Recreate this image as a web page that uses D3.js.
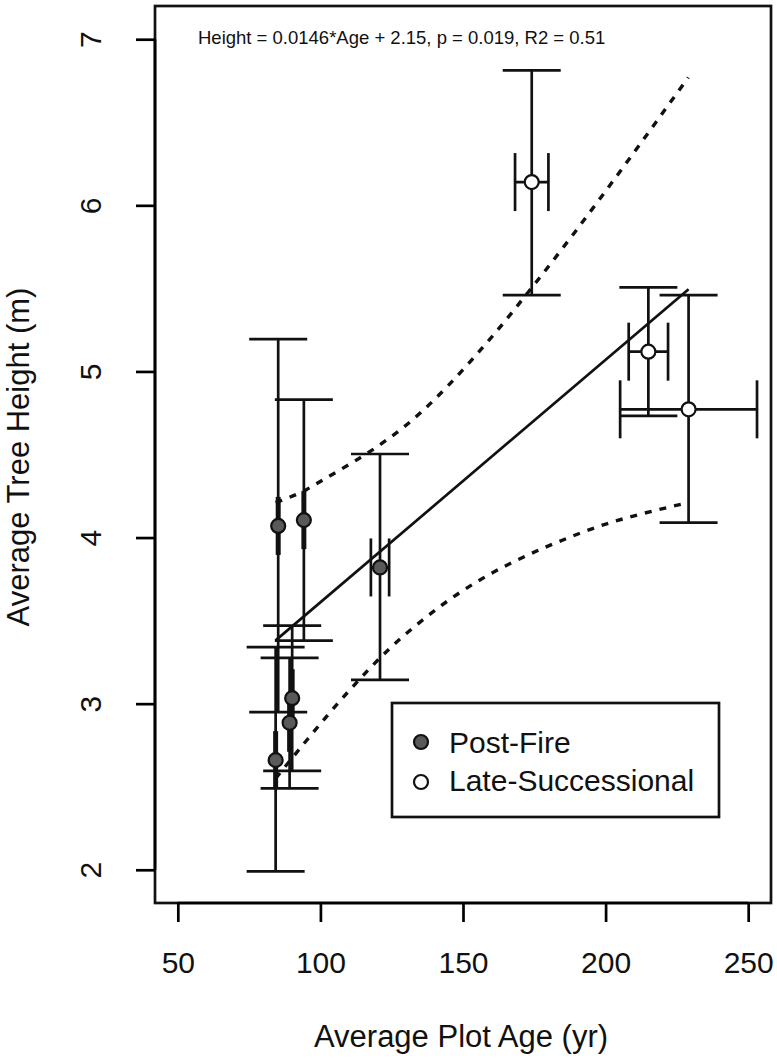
<!DOCTYPE html>
<html>
<head>
<meta charset="utf-8">
<script src="https://cdnjs.cloudflare.com/ajax/libs/d3/7.8.5/d3.min.js"></script>
<style>
    body { margin: 0; background: #fff; }
    svg text { font-family: "Liberation Sans", Arial, sans-serif; fill: #111; }
</style>
</head>
<body>
<div class="chart-svg"></div>
<script>
// post-fire plots
var pfAge = [85.2, 94.2, 120.9, 84.3, 89.2, 90.1];
var pfAgeErr = [0.4, 0.4, 3.2, 0.4, 0.4, 0.4];
var pfHeight = [4.07, 4.105, 3.82, 2.66, 2.885, 3.033];
var pfLow = [2.949, 3.38, 3.143, 1.99, 2.49, 2.596];
var pfHigh = [5.195, 4.83, 4.503, 3.34, 3.276, 3.47];

// late-successional plots
var lsAge = [174.1, 215, 229.1];
var lsAgeErr = [5.85, 6.9, 24];
var lsHeight = [6.14, 5.119, 4.772];
var lsLow = [5.46, 4.732, 4.09];
var lsHigh = [6.813, 5.506, 5.46];

// fitted line and confidence band
var fitAge = [84.3, 229.1];
var fitHeight = [3.381, 5.495];
var ciUpperAge = [84.3, 95.2, 99.8, 123.2, 127.9, 161.2, 175.3, 229];
var ciUpperHeight = [4.21, 4.29, 4.336, 4.587, 4.647, 5.23, 5.53, 6.77];
var ciLowerAge = [84.3, 87.5, 95.2, 109.8, 124.4, 141.9, 191, 229];
var ciLowerHeight = [2.55, 2.618, 2.78, 3.073, 3.334, 3.584, 4.026, 4.21];

var xTicks = [50, 100, 150, 200, 250];
var yTicks = [2, 3, 4, 5, 6, 7];
var equationText = "Height = 0.0146*Age + 2.15, p = 0.019, R2 = 0.51";
var legendLabels = ["Post-Fire", "Late-Successional"];

window.onload = function(){
    var svgWidth = 777;
    var svgHeight = 1059;
    var capHalf = 29;

    var svg = d3.select(".chart-svg")
            .append("svg")
            .attr("width", svgWidth)
            .attr("height", svgHeight);

    var xScale = d3.scaleLinear()
        .domain([42, 258])
        .range([155, 771]);

    var yScale = d3.scaleLinear()
        .domain([1.8, 7.2])
        .range([903, 6]);

    var plot = svg.append("g").attr("class", "plot");

    function makePoints(ages, errs, heights, lows, highs){
        return ages.map(function(a, i){
            return {age: a, err: errs[i], h: heights[i], lo: lows[i], hi: highs[i]};
        });
    };
    var postFire = makePoints(pfAge, pfAgeErr, pfHeight, pfLow, pfHigh);
    var lateSucc = makePoints(lsAge, lsAgeErr, lsHeight, lsLow, lsHigh);

    // confidence band
    var line = d3.line()
        .x(function(d){ return xScale(d[0]); })
        .y(function(d){ return yScale(d[1]); })
        .curve(d3.curveMonotoneX);

    [[ciUpperAge, ciUpperHeight], [ciLowerAge, ciLowerHeight]].forEach(function(c){
        plot.append("path")
            .datum(d3.zip(c[0], c[1]))
            .attr("d", line)
            .attr("fill", "none")
            .attr("stroke", "#111")
            .attr("stroke-width", 3.4)
            .attr("stroke-dasharray", "7,8");
    });

    plot.append("path")
        .datum(d3.zip(fitAge, fitHeight))
        .attr("d", d3.line().x(function(d){ return xScale(d[0]); }).y(function(d){ return yScale(d[1]); }))
        .attr("fill", "none")
        .attr("stroke", "#111")
        .attr("stroke-width", 2.7);

    function errorBars(data){
        var g = plot.append("g")
            .attr("stroke", "#111")
            .attr("stroke-width", 2.7);
        data.forEach(function(d){
            var cx = xScale(d.age), cy = yScale(d.h);
            // vertical bar
            g.append("line").attr("x1", cx).attr("x2", cx).attr("y1", yScale(d.lo)).attr("y2", yScale(d.hi));
            g.append("line").attr("x1", cx - capHalf).attr("x2", cx + capHalf).attr("y1", yScale(d.lo)).attr("y2", yScale(d.lo));
            g.append("line").attr("x1", cx - capHalf).attr("x2", cx + capHalf).attr("y1", yScale(d.hi)).attr("y2", yScale(d.hi));
            // horizontal bar
            var x0 = xScale(d.age - d.err), x1 = xScale(d.age + d.err);
            g.append("line").attr("x1", x0).attr("x2", x1).attr("y1", cy).attr("y2", cy);
            g.append("line").attr("x1", x0).attr("x2", x0).attr("y1", cy - capHalf).attr("y2", cy + capHalf);
            g.append("line").attr("x1", x1).attr("x2", x1).attr("y1", cy - capHalf).attr("y2", cy + capHalf);
        });
    };
    errorBars(postFire);
    errorBars(lateSucc);

    function drawPoints(data, fill){
        plot.append("g").selectAll("circle")
            .data(data)
            .enter()
            .append("circle")
            .attr("cx", function(d){ return xScale(d.age); })
            .attr("cy", function(d){ return yScale(d.h); })
            .attr("r", 7)
            .attr("fill", fill)
            .attr("stroke", "#111")
            .attr("stroke-width", 2.2);
    };
    drawPoints(postFire, "#595959");
    drawPoints(lateSucc, "#fff");

    // box
    svg.append("rect")
        .attr("x", 155).attr("y", 6)
        .attr("width", 616).attr("height", 897)
        .attr("fill", "none")
        .attr("stroke", "#111")
        .attr("stroke-width", 2.7);

    // axes
    var xAxis = d3.axisBottom(xScale).tickValues(xTicks).tickSize(19).tickPadding(30);
    var yAxis = d3.axisLeft(yScale).tickValues(yTicks).tickSize(19).tickFormat(d3.format("d"));

    var gx = svg.append("g")
        .attr("transform", "translate(0,903)")
        .call(xAxis);
    gx.select(".domain").attr("d", "M" + xScale(50) + ",0H" + xScale(250)).attr("stroke-width", 2.7);
    gx.selectAll(".tick line").attr("stroke-width", 2.7);
    gx.selectAll(".tick text")
        .attr("font-size", 30)
        .attr("font-family", "Liberation Sans, Arial, sans-serif")
        .attr("fill", "#111");

    var gy = svg.append("g")
        .attr("transform", "translate(155,0)")
        .call(yAxis);
    gy.select(".domain").attr("d", "M0," + yScale(2) + "V" + yScale(7)).attr("stroke-width", 2.7);
    gy.selectAll(".tick line").attr("stroke-width", 2.7);
    gy.selectAll(".tick text")
        .attr("font-size", 30)
        .attr("font-family", "Liberation Sans, Arial, sans-serif")
        .attr("fill", "#111")
        .attr("text-anchor", "middle")
        .attr("dy", 0)
        .attr("x", 0)
        .attr("transform", "translate(-54,0) rotate(-90)");

    svg.append("text")
        .attr("x", 461).attr("y", 1047)
        .attr("text-anchor", "middle")
        .attr("font-size", 31)
        .text("Average Plot Age (yr)");

    svg.append("text")
        .attr("transform", "translate(29,457) rotate(-90)")
        .attr("text-anchor", "middle")
        .attr("font-size", 31)
        .text("Average Tree Height (m)");

    svg.append("text")
        .attr("x", 198).attr("y", 44)
        .attr("font-size", 18.5)
        .text(equationText);

    // legend
    var legend = svg.append("g").attr("class", "legend");
    legend.append("rect")
        .attr("x", 392).attr("y", 703)
        .attr("width", 327).attr("height", 114)
        .attr("fill", "#fff")
        .attr("stroke", "#111")
        .attr("stroke-width", 2.7);
    var legendFill = ["#595959", "#fff"];
    legendLabels.forEach(function(lab, i){
        legend.append("circle")
            .attr("cx", 421).attr("cy", 742 + i * 40)
            .attr("r", 7)
            .attr("fill", legendFill[i])
            .attr("stroke", "#111")
            .attr("stroke-width", 2.2);
        legend.append("text")
            .attr("x", 449).attr("y", 753 + i * 38)
            .attr("font-size", 30)
            .text(lab);
    });
}
</script>
</body>
</html>
